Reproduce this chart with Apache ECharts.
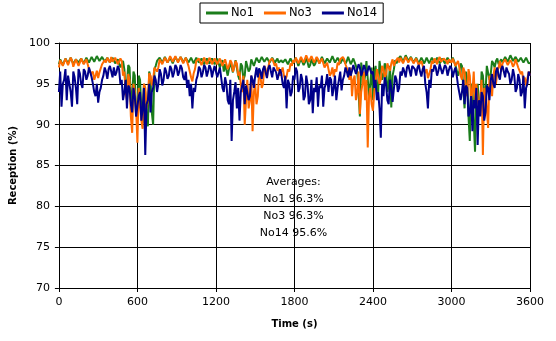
<!DOCTYPE html>
<html>
<head>
<meta charset="utf-8">
<script src="https://cdn.jsdelivr.net/npm/echarts@6/dist/echarts.min.js"></script>
<style>
html,body{margin:0;padding:0;background:#fff;}
#chart{width:556px;height:341px;}
</style>
</head>
<body>
<div id="chart"></div>
<script>
// Time step of the samples (seconds)
const timeStep = 10;
const seriesNames = ['No1', 'No3', 'No14'];
const xTicks = [0, 600, 1200, 1800, 2400, 3000, 3600];
const yTicks = [70, 75, 80, 85, 90, 95, 100];
const averageLines = ['Averages:', 'No1 96.3%', 'No3 96.3%', 'No14 95.6%'];

const no1 = [
 97.4, 98.0, 97.8, 97.3, 97.2, 98.1, 97.9, 97.5, 97.5, 98.2, 97.8, 97.4, 97.3, 98.0, 97.9, 97.6, 97.6, 98.1, 97.8, 97.5,
 97.5, 98.2, 98.0, 97.6, 97.7, 98.3, 98.1, 97.7, 97.8, 98.4, 98.2, 97.8, 97.9, 98.3, 98.1, 97.7, 97.8, 98.2, 98.0, 97.6,
 97.7, 98.2, 98.1, 97.5, 97.6, 98.0, 97.9, 97.0, 97.2, 97.8, 96.8, 94.5, 95.0, 97.3, 97.0, 92.8, 93.5, 96.5, 96.0, 91.0,
 91.5, 96.0, 95.5, 92.0, 90.2, 95.0, 94.0, 90.5, 89.8, 96.5, 95.8, 91.5, 90.0, 96.8, 97.2, 97.8, 97.6, 98.2, 98.0, 97.6,
 97.8, 98.3, 98.1, 97.6, 97.7, 98.2, 98.0, 97.5, 97.6, 98.3, 98.2, 97.7, 97.8, 98.3, 98.0, 97.6, 97.7, 98.2, 98.1, 97.6,
 97.8, 98.2, 98.0, 97.5, 97.6, 98.2, 98.1, 97.6, 97.7, 98.1, 97.9, 97.4, 97.5, 98.1, 98.0, 97.5, 97.6, 98.1, 97.9, 97.4,
 97.7, 98.1, 97.9, 97.0, 97.2, 97.9, 96.5, 97.4, 97.6, 96.0, 95.8, 97.7, 97.5, 96.4, 96.2, 97.9, 97.8, 96.0, 95.5, 97.5,
 97.2, 95.5, 96.0, 97.8, 97.6, 96.5, 96.8, 98.0, 97.9, 97.2, 97.4, 98.2, 98.0, 97.6, 97.8, 98.3, 98.1, 97.7, 97.9, 98.2,
 98.0, 97.6, 97.7, 98.2, 98.0, 97.6, 97.8, 98.1, 97.6, 97.4, 97.9, 97.6, 97.5, 98.0, 97.8, 97.4, 97.6, 98.1, 97.9, 97.5,
 97.7, 98.2, 98.0, 97.2, 97.4, 98.1, 97.9, 97.3, 97.6, 98.3, 98.1, 97.0, 97.3, 98.0, 97.8, 97.2, 97.5, 98.2, 98.0, 97.5,
 97.7, 98.3, 98.1, 97.5, 97.6, 98.1, 97.9, 97.6, 97.8, 98.4, 98.2, 97.6, 97.7, 98.2, 98.0, 97.5, 97.6, 98.1, 97.9, 97.5,
 97.8, 98.3, 98.1, 97.4, 97.6, 98.1, 97.9, 97.2, 96.5, 94.0, 91.0, 97.6, 97.4, 95.0, 96.0, 97.8, 97.6, 93.5, 95.0, 97.0,
 93.0, 96.5, 97.2, 94.5, 94.0, 97.8, 97.6, 95.5, 96.2, 97.5, 97.0, 94.0, 95.0, 97.2, 92.1, 96.0, 96.8, 97.9, 97.5, 98.0,
 97.8, 98.4, 98.2, 97.7, 97.9, 98.5, 98.4, 97.8, 97.8, 98.3, 98.1, 97.6, 97.7, 98.2, 98.0, 97.5, 97.6, 98.2, 97.9, 97.5,
 97.8, 98.2, 98.0, 97.5, 97.6, 98.2, 98.1, 97.6, 97.7, 98.2, 98.0, 97.5, 97.6, 98.1, 97.9, 97.5, 97.7, 98.2, 98.0, 97.6,
 97.8, 98.2, 98.1, 97.3, 97.5, 96.0, 96.5, 97.5, 97.2, 94.5, 92.0, 96.5, 95.5, 91.0, 88.0, 95.0, 94.5, 90.5, 86.7, 94.0,
 95.0, 92.5, 91.7, 96.5, 96.0, 93.5, 94.0, 97.2, 97.0, 95.5, 96.2, 97.8, 97.5, 97.0, 97.8, 98.1, 97.4, 97.7, 98.0, 97.6,
 97.8, 98.3, 98.2, 97.7, 97.9, 98.5, 98.4, 97.8, 97.9, 98.3, 98.2, 97.7, 97.8, 98.2, 98.1, 97.6, 97.8, 98.2, 98.0, 97.5,
 97.6
];

const no3 = [
 97.0, 97.9, 97.8, 97.2, 97.4, 98.1, 98.0, 97.3, 97.5, 98.2, 97.9, 97.1, 97.3, 98.0, 97.8, 97.2, 97.6, 98.1, 98.0, 97.4,
 97.5, 98.0, 97.8, 96.8, 97.0, 96.2, 96.5, 95.5, 96.0, 96.6, 95.7, 96.4, 96.3, 97.4, 97.2, 97.9, 97.6, 98.2, 98.0, 97.6,
 98.3, 97.7, 97.8, 98.2, 98.0, 97.4, 97.6, 98.1, 97.8, 96.0, 96.5, 94.0, 93.0, 96.2, 95.5, 91.0, 89.0, 95.0, 94.0, 92.0,
 87.8, 94.5, 92.5, 90.5, 89.5, 95.0, 94.5, 92.0, 93.0, 96.3, 96.0, 94.8, 95.5, 97.0, 97.2, 96.5, 97.0, 98.0, 97.8, 97.4,
 97.6, 98.2, 98.1, 97.6, 97.8, 98.4, 98.3, 97.7, 97.9, 98.4, 98.2, 97.6, 97.8, 98.3, 98.1, 97.5, 97.7, 98.2, 98.0, 97.2,
 96.5, 95.8, 95.3, 96.3, 96.8, 97.8, 97.6, 98.1, 97.9, 97.3, 97.5, 98.2, 98.0, 97.4, 97.7, 98.2, 97.9, 97.4, 97.6, 98.1,
 98.0, 97.4, 97.6, 98.1, 97.9, 97.2, 97.4, 98.0, 97.8, 96.8, 97.2, 97.9, 97.6, 96.5, 97.0, 97.8, 97.5, 96.0, 96.5, 95.0,
 94.0, 96.0, 90.0, 93.0, 95.5, 92.0, 93.0, 96.0, 89.2, 94.0, 95.0, 92.5, 93.5, 96.5, 96.0, 94.5, 95.0, 97.2, 96.8, 95.8,
 97.0, 97.8, 97.6, 98.1, 98.0, 97.2, 97.5, 96.6, 97.0, 96.0, 96.2, 97.0, 96.0, 95.5, 95.9, 96.8, 96.5, 97.5, 97.2, 97.9,
 97.6, 98.2, 98.0, 97.5, 97.7, 98.3, 98.2, 97.6, 97.8, 98.5, 98.4, 97.7, 97.9, 98.4, 98.2, 97.6, 97.8, 98.3, 98.0, 97.5,
 97.6, 98.1, 97.9, 97.0, 97.2, 97.6, 96.8, 96.0, 96.3, 97.0, 95.9, 96.8, 96.5, 97.6, 97.3, 98.0, 97.8, 98.3, 98.0, 97.4,
 97.5, 96.5, 95.5, 97.0, 93.5, 95.5, 96.0, 93.0, 94.0, 96.5, 91.3, 94.0, 95.0, 96.5, 93.0, 95.5, 87.2, 93.5, 94.5, 92.5,
 91.7, 94.0, 95.0, 96.8, 96.0, 95.0, 95.5, 97.2, 96.8, 95.8, 96.2, 97.5, 97.0, 96.6, 97.5, 98.0, 97.2, 97.7, 97.8, 98.2,
 97.6, 98.2, 98.0, 97.5, 97.7, 98.3, 98.1, 97.6, 97.8, 98.2, 98.0, 97.5, 97.6, 98.1, 97.9, 97.3, 97.5, 97.8, 97.2, 96.8,
 96.3, 96.8, 95.7, 96.2, 96.8, 97.8, 97.5, 98.1, 97.8, 97.4, 98.0, 98.3, 97.7, 97.5, 98.1, 98.3, 97.8, 97.4, 98.0, 98.2,
 97.6, 98.1, 97.9, 97.2, 97.3, 97.8, 97.0, 96.0, 95.5, 97.0, 96.5, 94.5, 93.5, 96.8, 96.0, 93.0, 94.0, 96.5, 92.5, 95.0,
 95.0, 91.5, 93.0, 95.5, 86.3, 94.5, 94.0, 92.0, 89.6, 96.0, 95.5, 93.5, 96.0, 97.0, 95.0, 96.5, 97.0, 97.8, 96.5, 97.5,
 97.5, 98.0, 97.8, 97.3, 97.2, 97.9, 97.6, 97.1, 97.4, 98.0, 97.8, 97.0, 97.2, 96.2, 96.5, 95.2, 95.8, 94.8, 95.0, 96.5,
 96.0
];

const no14 = [
 94.0, 96.5, 92.2, 95.0, 95.5, 96.8, 93.0, 96.0, 96.0, 94.0, 92.2, 96.5, 95.8, 94.5, 92.5, 96.8, 96.3, 95.0, 94.5, 96.8,
 96.5, 95.5, 96.0, 97.0, 96.8, 95.8, 95.0, 94.0, 93.5, 95.0, 92.7, 94.0, 94.5, 95.5, 96.0, 97.0, 96.5, 95.6, 96.8, 97.2,
 96.5, 95.8, 97.0, 96.0, 96.4, 97.2, 96.8, 95.0, 95.5, 93.0, 94.0, 95.5, 92.0, 94.8, 94.5, 92.5, 91.5, 94.5, 93.5, 91.0,
 91.0, 93.5, 94.0, 90.5, 92.0, 94.5, 86.3, 92.5, 93.0, 95.0, 91.5, 94.0, 94.5, 96.0, 95.5, 94.0, 95.0, 96.8, 96.2, 94.8,
 95.5, 97.0, 96.5, 95.6, 96.0, 97.2, 96.8, 95.8, 96.4, 97.3, 97.0, 96.0, 96.5, 97.3, 96.9, 95.8, 95.5, 96.5, 94.5, 95.5,
 93.5, 95.0, 92.0, 94.5, 94.0, 95.5, 96.0, 97.1, 96.8, 95.8, 96.4, 97.3, 97.0, 95.9, 96.5, 97.3, 96.9, 95.8, 96.6, 97.2,
 97.0, 95.8, 96.4, 97.0, 95.8, 94.5, 94.0, 95.8, 95.0, 93.0, 92.5, 95.5, 88.0, 93.0, 94.0, 95.2, 92.0, 94.5, 90.5, 94.0,
 94.0, 95.5, 92.5, 94.8, 95.0, 93.0, 93.5, 96.0, 95.5, 94.5, 96.0, 97.0, 95.8, 96.9, 96.5, 95.6, 96.8, 97.2, 96.4, 95.7,
 96.9, 97.3, 96.5, 95.8, 97.0, 97.2, 96.4, 95.5, 95.5, 96.8, 96.2, 95.0, 94.5, 96.0, 92.0, 95.5, 95.0, 93.5, 94.0, 96.0,
 95.5, 97.0, 96.5, 94.0, 94.5, 96.2, 95.5, 93.0, 93.5, 96.0, 95.0, 92.5, 93.0, 95.5, 91.4, 94.5, 94.0, 95.8, 92.2, 94.8,
 94.5, 96.0, 92.2, 94.5, 95.0, 96.2, 94.0, 95.8, 95.5, 93.5, 94.5, 96.0, 93.0, 94.5, 95.5, 96.5, 94.2, 95.5, 96.0, 97.0,
 96.5, 95.8, 97.0, 96.0, 96.6, 97.3, 97.2, 96.2, 96.8, 97.4, 97.0, 96.0, 96.5, 97.3, 96.9, 96.0, 96.6, 97.2, 97.0, 96.2,
 96.5, 94.5, 95.5, 93.0, 94.0, 92.0, 88.4, 95.0, 93.5, 95.8, 95.0, 93.0, 92.5, 95.5, 94.5, 92.8, 93.0, 96.0, 95.5, 94.0,
 94.5, 96.5, 96.0, 97.0, 96.5, 95.8, 97.0, 97.3, 96.6, 95.9, 97.2, 97.4, 96.8, 96.0, 97.0, 97.3, 96.5, 95.9, 96.8, 97.2,
 95.0, 94.0, 92.0, 95.5, 94.5, 96.8, 96.5, 97.3, 97.0, 96.0, 96.6, 97.4, 97.2, 96.2, 96.8, 97.3, 97.0, 96.0, 96.7, 97.2,
 96.9, 95.8, 96.5, 97.0, 96.0, 94.8, 95.0, 93.0, 94.0, 95.5, 92.5, 94.8, 94.5, 91.0, 91.5, 93.5, 89.2, 93.0, 92.0, 94.5,
 87.5, 93.0, 91.0, 94.0, 93.5, 90.5, 91.5, 94.8, 94.5, 93.0, 95.5, 96.2, 95.0, 94.5, 96.5, 97.0, 96.0, 95.5, 96.8, 97.2,
 96.5, 95.8, 97.0, 96.5, 96.2, 95.0, 95.5, 96.8, 96.0, 94.0, 94.5, 96.2, 95.5, 93.5, 94.0, 96.0, 92.0, 94.5, 95.0, 96.5,
 96.0
];

const colors = ['#1b7d1b', '#ff6a00', '#00008a'];
const seriesValues = [no1, no3, no14];

function toPairs(arr) {
  return arr.map((v, i) => [i * timeStep, v]);
}

const chart = echarts.init(document.getElementById('chart'), null, {renderer: 'canvas'});
const FONT = 'DejaVu Sans';

const option = {
  animation: false,
  backgroundColor: '#fff',
  textStyle: {fontFamily: FONT, color: '#000'},
  legend: {
    top: 3,
    left: 200,
    data: seriesNames,
    borderColor: '#000',
    borderWidth: 1,
    backgroundColor: '#fff',
    borderRadius: 0,
    padding: [4, 6, 4, 6],
    itemGap: 10,
    itemWidth: 22,
    itemHeight: 3,
    icon: 'rect',
    textStyle: {fontFamily: FONT, fontSize: 11.5, color: '#000', padding: [0, 0, 0, -2]}
  },
  grid: {left: 56, right: 26, top: 43, bottom: 53, containLabel: false},
  xAxis: {
    type: 'value',
    min: xTicks[0],
    max: xTicks[xTicks.length - 1],
    interval: 600,
    name: 'Time (s)',
    nameLocation: 'middle',
    nameGap: 31,
    nameTextStyle: {fontFamily: FONT, fontWeight: 'bold', fontSize: 10, color: '#000'},
    axisLine: {show: true, onZero: false, lineStyle: {color: '#000', width: 1}},
    axisTick: {show: true, inside: false, length: 4, lineStyle: {color: '#000'}},
    axisLabel: {fontFamily: FONT, fontSize: 11, color: '#000', margin: 9, formatter: v => String(v)},
    splitLine: {show: true, lineStyle: {color: '#000', width: 1}}
  },
  yAxis: {
    type: 'value',
    min: yTicks[0],
    max: yTicks[yTicks.length - 1],
    interval: 5,
    name: 'Reception (%)',
    nameLocation: 'middle',
    nameGap: 40,
    nameRotate: 90,
    nameTextStyle: {fontFamily: FONT, fontWeight: 'bold', fontSize: 10, color: '#000'},
    axisLine: {show: true, lineStyle: {color: '#000', width: 1}},
    axisTick: {show: true, inside: false, length: 4, lineStyle: {color: '#000'}},
    axisLabel: {fontFamily: FONT, fontSize: 11, color: '#000', margin: 9, formatter: v => String(v)},
    splitLine: {show: true, lineStyle: {color: '#000', width: 1}}
  },
  series: seriesNames.map((name, k) => ({
    name: name,
    type: 'line',
    data: toPairs(seriesValues[k]),
    showSymbol: false,
    symbol: 'none',
    color: colors[k],
    lineStyle: {color: colors[k], width: 2},
    z: 2 + k
  })),
  graphic: [{
    type: 'group',
    left: 216,
    top: 172,
    z: 100,
    children: [
      {type: 'rect', shape: {x: 0, y: 0, width: 155, height: 73}, style: {fill: '#fff', stroke: null}},
      ...averageLines.map((t, i) => ({
        type: 'text',
        x: 77.5,
        y: 10 + i * 17,
        style: {text: t, fill: '#000', font: '11px "DejaVu Sans"', textAlign: 'center', textVerticalAlign: 'middle'}
      }))
    ]
  }]
};
chart.setOption(option);
</script>
</body>
</html>
